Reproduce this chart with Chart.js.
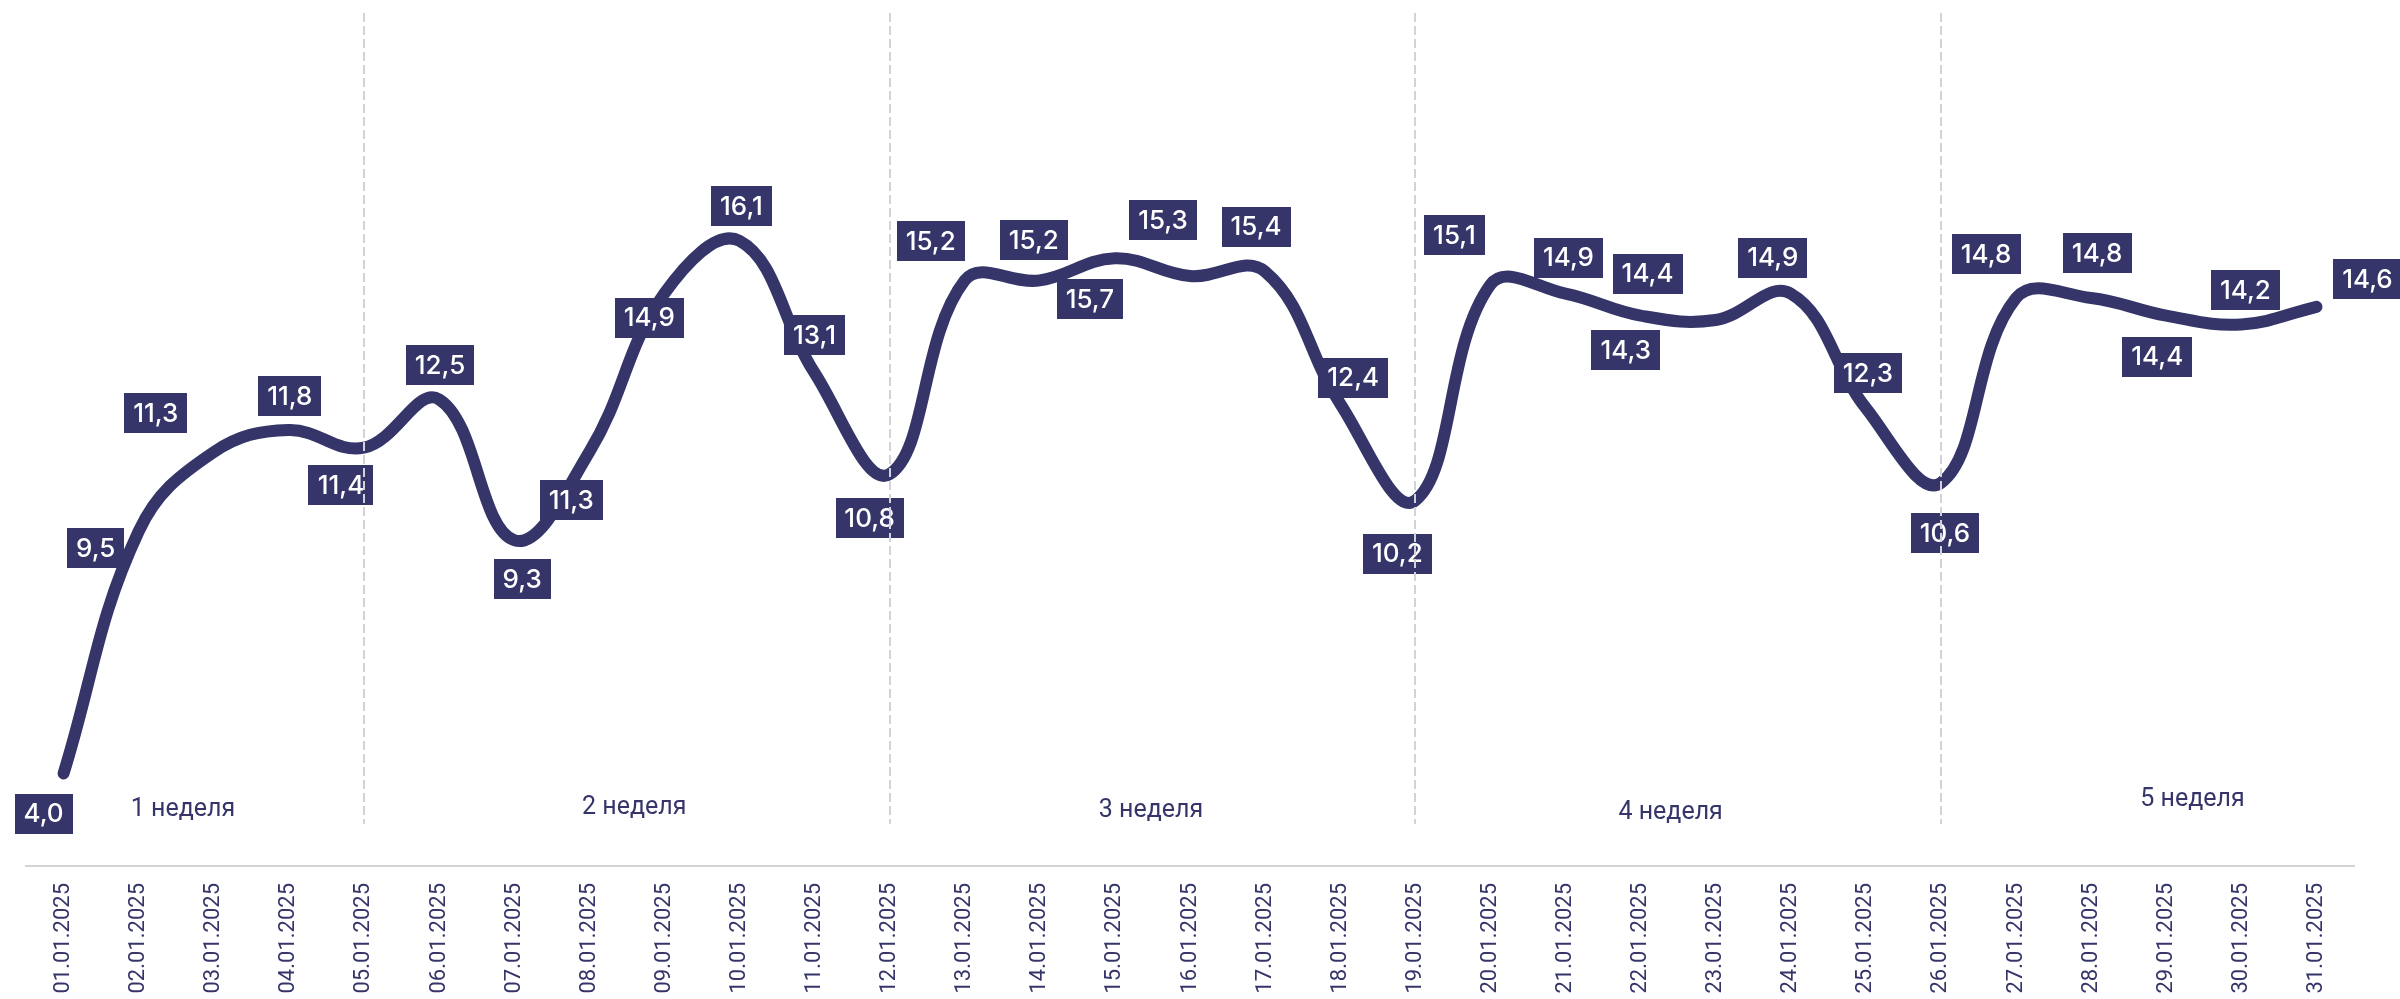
<!DOCTYPE html>
<html><head><meta charset="utf-8">
<script src="https://cdn.jsdelivr.net/npm/chart.js@4.4.1/dist/chart.umd.min.js"></script>
<style>html,body{margin:0;padding:0;background:#fff;}#wrap{width:2400px;height:999px;position:relative;}</style>
</head><body><div id="wrap"><canvas id="c" width="2400" height="999"></canvas></div>
<script>
const categories = ['01.01.2025','02.01.2025','03.01.2025','04.01.2025','05.01.2025','06.01.2025','07.01.2025','08.01.2025','09.01.2025','10.01.2025','11.01.2025','12.01.2025','13.01.2025','14.01.2025','15.01.2025','16.01.2025','17.01.2025','18.01.2025','19.01.2025','20.01.2025','21.01.2025','22.01.2025','23.01.2025','24.01.2025','25.01.2025','26.01.2025','27.01.2025','28.01.2025','29.01.2025','30.01.2025','31.01.2025'];
const values = [4.0, 9.5, 11.3, 11.8, 11.4, 12.5, 9.3, 11.3, 14.9, 16.1, 13.1, 10.8, 15.2, 15.2, 15.7, 15.3, 15.4, 12.4, 10.2, 15.1, 14.9, 14.4, 14.3, 14.9, 12.3, 10.6, 14.8, 14.8, 14.4, 14.2, 14.6];
const weekNames = ['1 неделя','2 неделя','3 неделя','4 неделя','5 неделя'];
const weekDividers = ['05.01.2025','12.01.2025','19.01.2025','26.01.2025'];

// label placement relative to each point (px)
const labelOffsets = [[-20,40],[-43,17],[-58,-39],[1,-34],[-23,37],[1,-34],[8,39],[-18,48],[-15,24],[2,-35],[0,-38],[-20,44],[-34,-39],[-6,-40],[-25,41],[-27,-56],[-9,-45],[13,-26],[-18,53],[-36,-50],[3,-36],[7,-42],[-90,30],[-18,-36],[2,-35],[4,50],[-30,-44],[6,-45],[-9,41],[4,-34],[51,-28]];
const weekLabelPos = [[1.59,-56],[7.6,-58],[14.48,-55],[21.4,-53],[28.35,-66]];

const NAVY = '#35356a';
const fmt = v => v.toFixed(1).replace('.', ',');

const weekText = {
  id:'weekText',
  beforeDatasetsDraw(chart){
    const ctx = chart.ctx, xs = chart.scales.x, b = chart.chartArea.bottom;
    ctx.save();
    ctx.font = '400 25px Roboto';
    ctx.fillStyle = NAVY;
    ctx.textAlign = 'center'; ctx.textBaseline = 'middle';
    weekNames.forEach((n,i)=>{
      const p = weekLabelPos[i];
      const x = xs.left + (p[0] + 0.5) * (xs.width / categories.length);
      ctx.fillText(n, x, b + p[1]);
    });
    ctx.restore();
  }
};

const boxLabels = {
  id:'boxLabels',
  afterDatasetsDraw(chart){
    const ctx = chart.ctx, meta = chart.getDatasetMeta(0);
    ctx.save();
    ctx.font = '500 26px Inter';
    ctx.textAlign = 'center'; ctx.textBaseline = 'middle';
    meta.data.forEach((pt,i)=>{
      const t = fmt(values[i]);
      const w = Math.round(ctx.measureText(t).width + 18), h = 40;
      const cx = pt.x + labelOffsets[i][0], cy = pt.y + labelOffsets[i][1];
      ctx.fillStyle = NAVY;
      ctx.fillRect(Math.round(cx - w/2), Math.round(cy - h/2), w, h);
      ctx.fillStyle = '#ffffff';
      ctx.fillText(t, cx, cy + 1);
    });
    ctx.restore();
  }
};

const dividers = {
  id:'dividers',
  afterDraw(chart){
    const ctx = chart.ctx, xs = chart.scales.x, a = chart.chartArea;
    ctx.save();
    ctx.strokeStyle = '#d2d2da';
    ctx.lineWidth = 2;
    ctx.setLineDash([9,4]);
    weekDividers.forEach(d=>{
      const x = Math.round(xs.getPixelForValue(categories.indexOf(d)));
      ctx.beginPath();
      ctx.moveTo(x, a.top - 12);
      ctx.lineTo(x, a.bottom - 42);
      ctx.stroke();
    });
    ctx.restore();
  }
};

function draw(){
  new Chart(document.getElementById('c'), {
    type:'line',
    data:{
      labels: categories,
      datasets:[{
        data: values,
        borderColor: NAVY,
        borderWidth: 12,
        borderCapStyle: 'round',
        borderJoinStyle: 'round',
        tension: 0.4,
        pointRadius: 0,
        fill: false
      }]
    },
    options:{
      responsive:false,
      animation:false,
      devicePixelRatio:1,
      layout:{padding:{left:26,right:46,top:25,bottom:0}},
      plugins:{legend:{display:false},tooltip:{enabled:false}},
      scales:{
        x:{
          offset:true,
          grid:{display:false, drawTicks:false},
          border:{display:true, color:'#d4d4d4', width:2},
          ticks:{
            color:'#35356a',
            font:{family:'Roboto', size:22},
            maxRotation:90, minRotation:90,
            padding:17,
            autoSkip:false
          },
          afterFit(s){ s.height = 133; }
        },
        y:{display:false, min:1.9, max:21}
      }
    },
    plugins:[weekText, boxLabels, dividers]
  });
}
Promise.all([
  document.fonts.load('500 26px Inter'),
  document.fonts.load('400 25px Roboto'),
  document.fonts.load('400 22px Roboto')
]).then(draw, draw);
</script>
</body></html>
